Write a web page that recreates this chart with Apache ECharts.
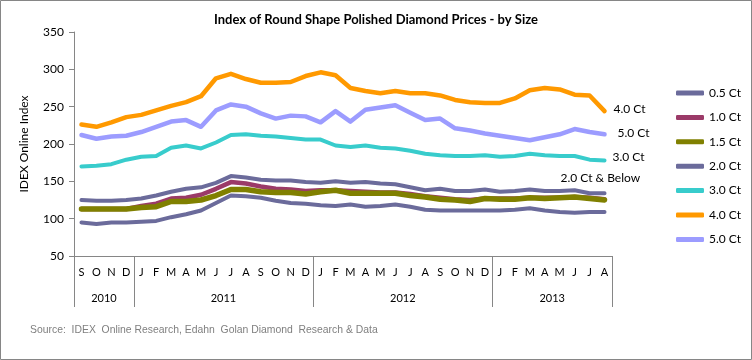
<!DOCTYPE html>
<html><head><meta charset="utf-8">
<script src="https://cdn.jsdelivr.net/npm/echarts@6/dist/echarts.min.js"></script>
<style>html,body{margin:0;padding:0;background:#fff}#c{width:752px;height:360px}</style>
</head><body><div id="c"></div>
<script>
const months = ['S','O','N','D','J','F','M','A','M','J','J','A','S','O','N','D','J','F','M','A','M','J','J','A','S','O','N','D','J','F','M','A','M','J','J','A'];
const years = ['2010','2011','2012','2013'];
const yearSpans = [4,12,12,8];
const seriesNames = ['0.5 Ct','1.0 Ct','1.5 Ct','2.0 Ct','3.0 Ct','4.0 Ct','5.0 Ct'];
const endLabelTexts = ['', '', '', '2.0 Ct & Below', '3.0 Ct', '4.0 Ct', '5.0 Ct'];
const ct05 = [95,93,95,95,96,97,102,106,111,121,131,130,128,124,121,120,118,117,119,116,117,119,116,112,111,111,111,111,111,112,114,111,109,108,109,109];
const ct10 = [113,113,113,113,117,120,127,128,132,140,149,147,143,140,139,137,138,138,137,136,135,135,133,130,128,126,125,127,127,127,128,128,128,129,128,126];
const ct15 = [113,113,113,113,115,116,123,123,125,131,139,139,136,135,135,133,136,138,134,134,134,134,131,129,126,125,123,127,126,126,128,127,128,129,127,125];
const ct20 = [125,124,124,125,127,131,136,140,142,148,157,155,152,151,151,149,148,150,148,149,147,146,142,138,140,137,137,139,136,137,139,137,137,138,134,134];
const ct30 = [170,171,173,179,183,184,195,198,194,202,212,213,211,210,208,206,206,198,196,198,195,194,191,187,185,184,184,185,183,184,187,185,184,184,179,178];
const ct40 = [226,223,229,236,239,245,251,256,264,288,294,287,282,282,283,291,296,292,275,271,268,271,268,268,265,259,256,255,255,261,272,275,273,266,265,244];
const ct50 = [212,207,210,211,216,223,230,232,223,245,253,250,241,234,238,237,229,244,230,246,249,252,242,232,234,221,218,214,211,208,205,209,213,220,216,213];
const seriesData = [ct05, ct10, ct15, ct20, ct30, ct40, ct50];
const colors = ['#6b6b9b','#9b3a68','#808000','#6b6b9b','#38cccc','#ff9900','#9c9cff'];
const widths = [4,4.5,5.5,4,4,4.5,4.5];
const labelOffsets = [[0,0],[0,0],[0,0],[-52,-15],[0,-3],[1,-2],[5,-1]];

// year boundaries and centers
const yearBounds = [0];
yearSpans.forEach(s => yearBounds.push(yearBounds[yearBounds.length-1] + s));
const yearCenters = yearSpans.map((s,i) => yearBounds[i] + s/2);
const yearByCenter = {};
yearCenters.forEach((c,i) => yearByCenter[c] = years[i]);

const axisGray = '#868686';
const font = 'Lato, "Open Sans", sans-serif';
const chart = echarts.init(document.getElementById('c'));
chart.setOption({
  animation: false,
  backgroundColor: '#fff',
  title: {
    text: 'Index of Round Shape Polished Diamond Prices - by Size',
    left: 'center', top: 8,
    textStyle: {fontFamily: font, fontWeight: 'bold', fontSize: 13, color: '#000'}
  },
  grid: {left: 74, right: 140, top: 32, bottom: 104},
  legend: {
    data: seriesNames,
    orient: 'vertical', left: 671, top: 81,
    icon: 'roundRect', itemWidth: 28, itemHeight: 5, itemGap: 10.4,
    textStyle: {fontFamily: font, fontSize: 12, color: '#000', lineHeight: 14}
  },
  xAxis: [{
    type: 'category', data: months, boundaryGap: true,
    axisLine: {lineStyle: {color: axisGray}},
    axisTick: {interval: 0, length: 26, lineStyle: {color: axisGray}},
    axisLabel: {interval: 0, margin: 11, fontFamily: font, fontSize: 11, color: '#000'},
    splitLine: {show: false}
  }, {
    type: 'value', min: 0, max: yearBounds[yearBounds.length-1], position: 'bottom',
    axisLine: {show: false},
    axisTick: {show: true, customValues: yearBounds, length: 51, lineStyle: {color: axisGray}},
    axisLabel: {customValues: yearCenters, formatter: v => yearByCenter[v] || '', margin: 37,
      fontFamily: font, fontSize: 11, color: '#000'},
    splitLine: {show: false}
  }],
  yAxis: {
    type: 'value', min: 50, max: 350, interval: 50,
    name: 'IDEX Online Index', nameLocation: 'middle', nameRotate: 90, nameGap: 44,
    nameTextStyle: {fontFamily: font, fontSize: 12, color: '#000'},
    axisLine: {show: true, lineStyle: {color: axisGray}},
    axisTick: {show: true, length: 5, lineStyle: {color: axisGray}},
    axisLabel: {margin: 10, fontFamily: font, fontSize: 12, color: '#000'},
    splitLine: {show: false}
  },
  series: seriesNames.map((n, i) => ({
    name: n, type: 'line', data: seriesData[i], symbol: 'none',
    color: colors[i],
    lineStyle: {width: widths[i], color: colors[i], cap: 'round', join: 'round'},
    endLabel: {
      show: !!endLabelTexts[i], formatter: endLabelTexts[i], offset: labelOffsets[i],
      fontFamily: font, fontSize: 12, color: '#000'
    }
  })),
  graphic: [{
    type: 'text', left: 30, top: 325,
    style: {text: 'Source:  IDEX  Online Research, Edahn  Golan Diamond  Research & Data',
      font: '10.4px "Liberation Sans Narrow", "Liberation Sans", Arial, sans-serif', fill: '#7f7f7f'}
  }, {
    type: 'rect', shape: {x: 0.5, y: 0.5, width: 751, height: 359},
    style: {fill: 'none', stroke: '#868686', lineWidth: 1}, silent: true
  }]
});
</script></body></html>
